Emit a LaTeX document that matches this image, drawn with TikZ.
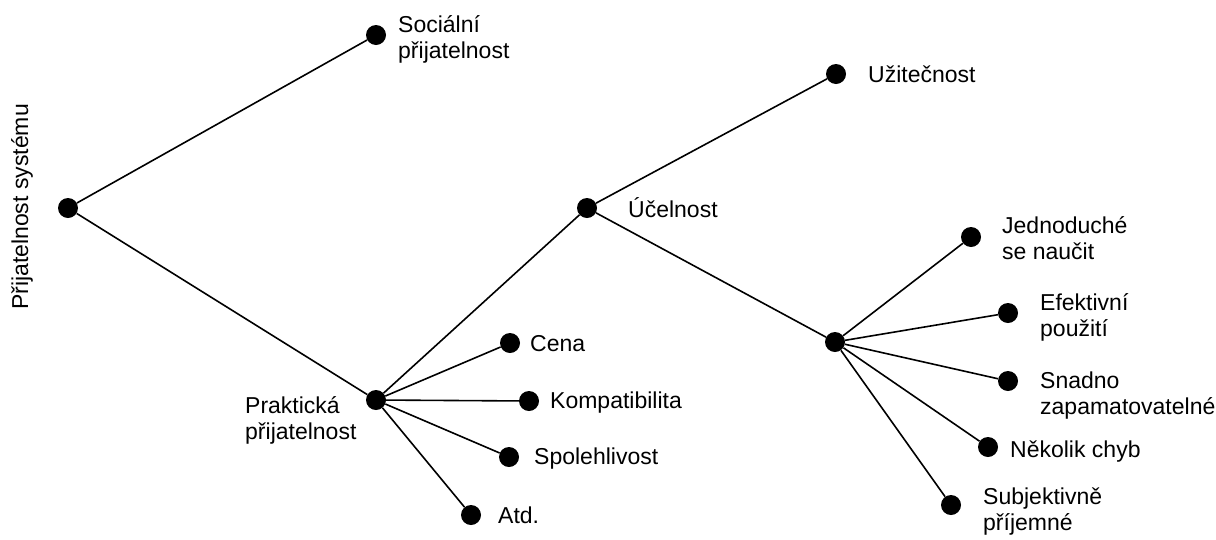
\documentclass[tikz,border=0pt]{standalone}
\usepackage{fontspec}
\setmainfont{Liberation Sans}
\begin{document}
\begin{tikzpicture}[x=1pt,y=-1pt,
		dot/.style={circle, fill=black, inner sep=0pt, minimum size=20pt},
		txt/.style={anchor=west, align=left, inner sep=0pt, font=\fontsize{23}{26}\selectfont},
		edge/.style={line width=1.6pt}]
		\useasboundingbox (0,0) rectangle (1216,539);
		\node[dot] (root) at (68,208) {};
		\node[txt, anchor=center, rotate=90] (root-t) at (22,207) {Přijatelnost systému};
		\node[dot] (soc) at (376,35) {};
		\node[txt] (soc-t) at (398,39) {Sociální\\přijatelnost};
		\node[dot] (prak) at (376,400) {};
		\node[txt] (prak-t) at (245,420) {Praktická\\přijatelnost};
		\node[dot] (ucel) at (587,208) {};
		\node[txt] (ucel-t) at (628,208) {Účelnost};
		\node[dot] (uzit) at (836,74) {};
		\node[txt] (uzit-t) at (868,74) {Užitečnost};
		\node[dot] (cena) at (510,343) {};
		\node[txt] (cena-t) at (530,344) {Cena};
		\node[dot] (komp) at (529,401) {};
		\node[txt] (komp-t) at (550,403) {Kompatibilita};
		\node[dot] (spol) at (509,457) {};
		\node[txt] (spol-t) at (534,459) {Spolehlivost};
		\node[dot] (atd) at (471,515) {};
		\node[txt] (atd-t) at (498,515) {Atd.};
		\node[dot] (hub) at (835,342) {};
		\node[dot] (jedn) at (971,237) {};
		\node[txt] (jedn-t) at (1002,238) {Jednoduché\\se naučit};
		\node[dot] (efek) at (1008,313) {};
		\node[txt] (efek-t) at (1040,317) {Efektivní\\použití};
		\node[dot] (snad) at (1008,381) {};
		\node[txt] (snad-t) at (1040,396) {Snadno\\zapamatovatelné};
		\node[dot] (chyb) at (988,447) {};
		\node[txt] (chyb-t) at (1010,452) {Několik chyb};
		\node[dot] (subj) at (951,505) {};
		\node[txt] (subj-t) at (983,512) {Subjektivně\\příjemné};
		\draw[edge] (root) -- (soc);
		\draw[edge] (root) -- (prak);
		\draw[edge] (prak) -- (ucel);
		\draw[edge] (ucel) -- (uzit);
		\draw[edge] (ucel) -- (hub);
		\foreach \n in {cena,komp,spol,atd}
			\draw[edge] (prak) -- (\n);
		\foreach \n in {jedn,efek,snad,chyb,subj}
			\draw[edge] (hub) -- (\n);
\end{tikzpicture}
\end{document}
